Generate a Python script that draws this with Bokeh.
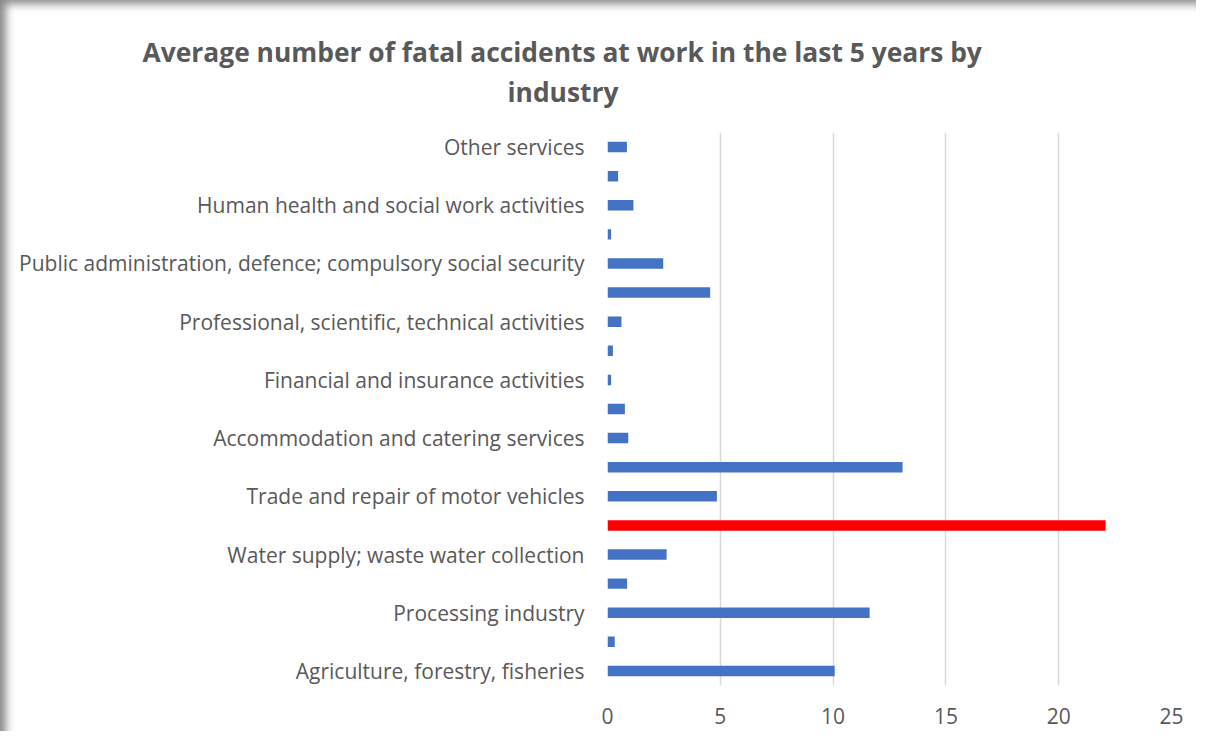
from bokeh.plotting import figure
from bokeh.models import Range1d, FixedTicker, ColumnDataSource, Title
from bokeh.embed import file_html
from bokeh.resources import INLINE

# ---- data (bottom to top) ----
labels = [
    "Agriculture, forestry, fisheries", "",
    "Processing industry", "",
    "Water supply; waste water collection", "",
    "Trade and repair of motor vehicles", "",
    "Accommodation and catering services", "",
    "Financial and insurance activities", "",
    "Professional, scientific, technical activities", "",
    "Public administration, defence; compulsory social security", "",
    "Human health and social work activities", "",
    "Other services",
]
values = [10.07, 0.32, 11.62, 0.87, 2.62, 22.08, 4.85, 13.08, 0.92, 0.77,
          0.16, 0.24, 0.62, 4.55, 2.47, 0.16, 1.15, 0.47, 0.86]
highlight = [False, False, False, False, False, True, False, False, False, False,
             False, False, False, False, False, False, False, False, False]
x_ticks = [0, 5, 10, 15, 20, 25]
title_lines = ["Average number of fatal accidents at work in the last 5 years by", "industry"]

BLUE = "#4472C4"
RED = "#FF0000"
TEXT = "#595959"
GRID = "#D9D9D9"
FONT = "Open Sans"

W, H = 1196, 731
FL, FR, FT, FB = 607, 1171, 132, 685   # frame edges in page pixels

pos = list(range(len(values)))
colors = [RED if h else BLUE for h in highlight]
src = ColumnDataSource(dict(y=pos, v=values, c=colors))

p = figure(width=W, height=H, output_backend="svg", toolbar_location=None,
           x_range=Range1d(0, 25), y_range=Range1d(-0.5, len(values) - 0.5),
           min_border_left=FL, min_border_right=W - FR,
           min_border_top=FT, min_border_bottom=H - FB)

p.hbar(y="y", right="v", left=0, height=0.36, color="c", line_color=None, source=src)

p.border_fill_alpha = 0
p.background_fill_color = "white"
p.outline_line_color = None
p.styles = {"background-color": "white",
            "box-shadow": "inset 11px 9px 9px -5px #8a8a8a"}

# x axis
p.xaxis.ticker = FixedTicker(ticks=x_ticks)
p.xaxis.axis_line_color = None
p.xaxis.major_tick_line_color = None
p.xaxis.minor_tick_line_color = None
p.xaxis.major_label_standoff = 16
p.xaxis.major_label_text_font = FONT
p.xaxis.major_label_text_font_size = "21px"
p.xaxis.major_label_text_color = TEXT

# y axis
p.yaxis.ticker = FixedTicker(ticks=pos)
p.yaxis.major_label_overrides = {i: labels[i] for i in pos}
p.yaxis.axis_line_color = None
p.yaxis.major_tick_line_color = None
p.yaxis.minor_tick_line_color = None
p.yaxis.major_label_standoff = 17
p.yaxis.major_label_text_font = FONT
p.yaxis.major_label_text_font_size = "21px"
p.yaxis.major_label_text_color = TEXT

p.xgrid.ticker = FixedTicker(ticks=x_ticks)
p.xgrid.grid_line_color = GRID
p.xgrid.grid_line_width = 1.5
p.ygrid.grid_line_color = None

# two-line title, left-aligned lines shifted to sit centred near x=561
p.title = None
# thin spacer between the plot area and the title
p.add_layout(Title(text=" ", text_font_size="1px", standoff=19.5), "above")
p.add_layout(Title(text=title_lines[1], align="left", offset=507 - FL,
                   text_font=FONT, text_font_size="26.4px", text_font_style="bold",
                   text_color=TEXT, standoff=0), "above")
p.add_layout(Title(text=title_lines[0], align="left", offset=142 - FL,
                   text_font=FONT, text_font_size="26.4px", text_font_style="bold",
                   text_color=TEXT, standoff=3), "above")

open("out.html", "w").write(file_html(p, INLINE))
